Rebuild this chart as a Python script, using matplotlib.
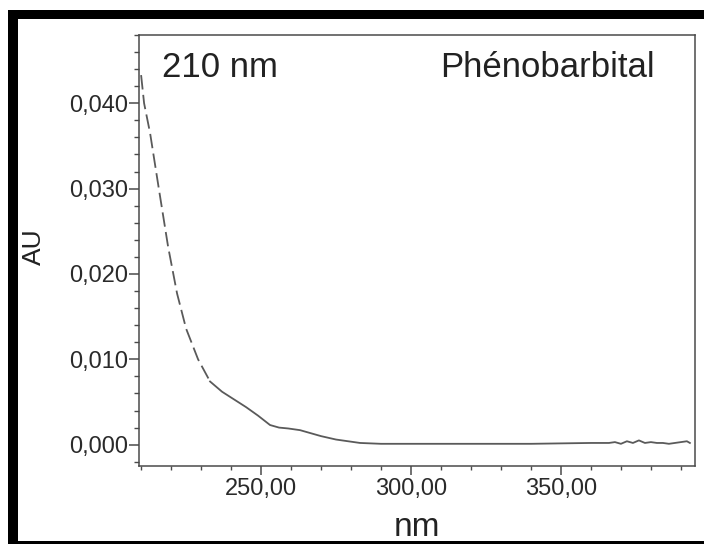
import matplotlib
matplotlib.use("Agg")
import matplotlib.pyplot as plt
from matplotlib.ticker import MultipleLocator, FuncFormatter
from matplotlib.patches import Rectangle

plt.rcParams['font.family'] = ['Liberation Sans', 'DejaVu Sans']

# ---- data ----
wavelength_nm = [210, 211, 213, 216, 219, 222, 225, 229, 233, 237, 241, 245,
                 249, 253, 256, 259, 263, 266, 270, 275, 279, 283, 290, 300,
                 320, 340, 360, 366, 368, 370, 372, 374, 376, 378, 380, 382,
                 384, 386, 388, 390, 392, 393]
absorbance_au = [0.0433, 0.0400, 0.0365, 0.0298, 0.0232, 0.0177, 0.0136, 0.0100,
                 0.0074, 0.0062, 0.0053, 0.0044, 0.0034, 0.0023, 0.0020, 0.0019,
                 0.0017, 0.0014, 0.0010, 0.0006, 0.0004, 0.0002, 0.0001, 0.0001,
                 0.0001, 0.0001, 0.0002, 0.0002, 0.0003, 0.0001, 0.0004, 0.0002,
                 0.0005, 0.0002, 0.0003, 0.0002, 0.0002, 0.0001, 0.0002, 0.0003,
                 0.0004, 0.0002]
dashed_until_nm = 233

wavelength_label = "210 nm"
compound_label = "Phénobarbital"
x_label = "nm"
y_label = "AU"
x_major_ticks = [250, 300, 350]
y_major_ticks = [0.000, 0.010, 0.020, 0.030, 0.040]

W, H = 704, 544
fig = plt.figure(figsize=(W / 100, H / 100), dpi=100)
fig.patch.set_facecolor('white')

# axes placement (pixels -> fractions)
left_px, right_px, top_px, bottom_px = 139, 695, 35, 466
ax = fig.add_axes([left_px / W, 1 - bottom_px / H,
                   (right_px - left_px) / W, (bottom_px - top_px) / H])

# black frame around figure (top, left, bottom)
for (x0, y0, x1, y1) in [(8, 10, 704, 19), (8, 10, 18, 544), (8, 541, 704, 544)]:
    fig.patches.append(Rectangle((x0 / W, 1 - y1 / H), (x1 - x0) / W, (y1 - y0) / H,
                                 transform=fig.transFigure, facecolor='black',
                                 edgecolor='none', zorder=0))

split = next(i for i, w in enumerate(wavelength_nm) if w >= dashed_until_nm)
curve_color = '#5a5a5a'
ax.plot(wavelength_nm[:split + 1], absorbance_au[:split + 1], color=curve_color,
        lw=1.3, dashes=(8, 3))
ax.plot(wavelength_nm[split:], absorbance_au[split:], color=curve_color, lw=1.3)

ax.set_xlim(209.3, 394.7)
ax.set_ylim(-0.0025, 0.0480)

ax.set_xticks(x_major_ticks)
ax.set_yticks(y_major_ticks)
ax.xaxis.set_minor_locator(MultipleLocator(10))
ax.yaxis.set_minor_locator(MultipleLocator(0.002))
ax.xaxis.set_major_formatter(FuncFormatter(lambda v, p: f"{v:.2f}".replace('.', ',')))
ax.yaxis.set_major_formatter(FuncFormatter(lambda v, p: f"{v:.3f}".replace('.', ',')))

spine_color = '#4a4a4a'
for s in ax.spines.values():
    s.set_color(spine_color)
    s.set_linewidth(1.1)

ax.tick_params(axis='both', which='major', labelsize=17, colors=spine_color,
               labelcolor='#2a2a2a')
ax.tick_params(axis='x', which='major', length=6.5, width=1.1, pad=2)
ax.tick_params(axis='y', which='major', length=7, width=1.1, pad=1)
ax.tick_params(axis='x', which='minor', length=3, width=1.0, colors=spine_color)
ax.tick_params(axis='y', which='minor', length=3.5, width=1.0, colors=spine_color)

ax.set_xlabel(x_label, fontsize=24, color='#222222')
ax.xaxis.set_label_coords(0.5, -0.1075)
ax.set_ylabel(y_label, fontsize=19, color='#222222')
ax.yaxis.set_label_coords(-0.168, 0.508)

ax.text(0.0414, 0.9026, wavelength_label, transform=ax.transAxes, fontsize=25,
        ha='left', va='baseline', color='#222222')
ax.text(0.7338, 0.9026, compound_label, transform=ax.transAxes, fontsize=25,
        ha='center', va='baseline', color='#222222')

fig.savefig('out.png', dpi=100)
